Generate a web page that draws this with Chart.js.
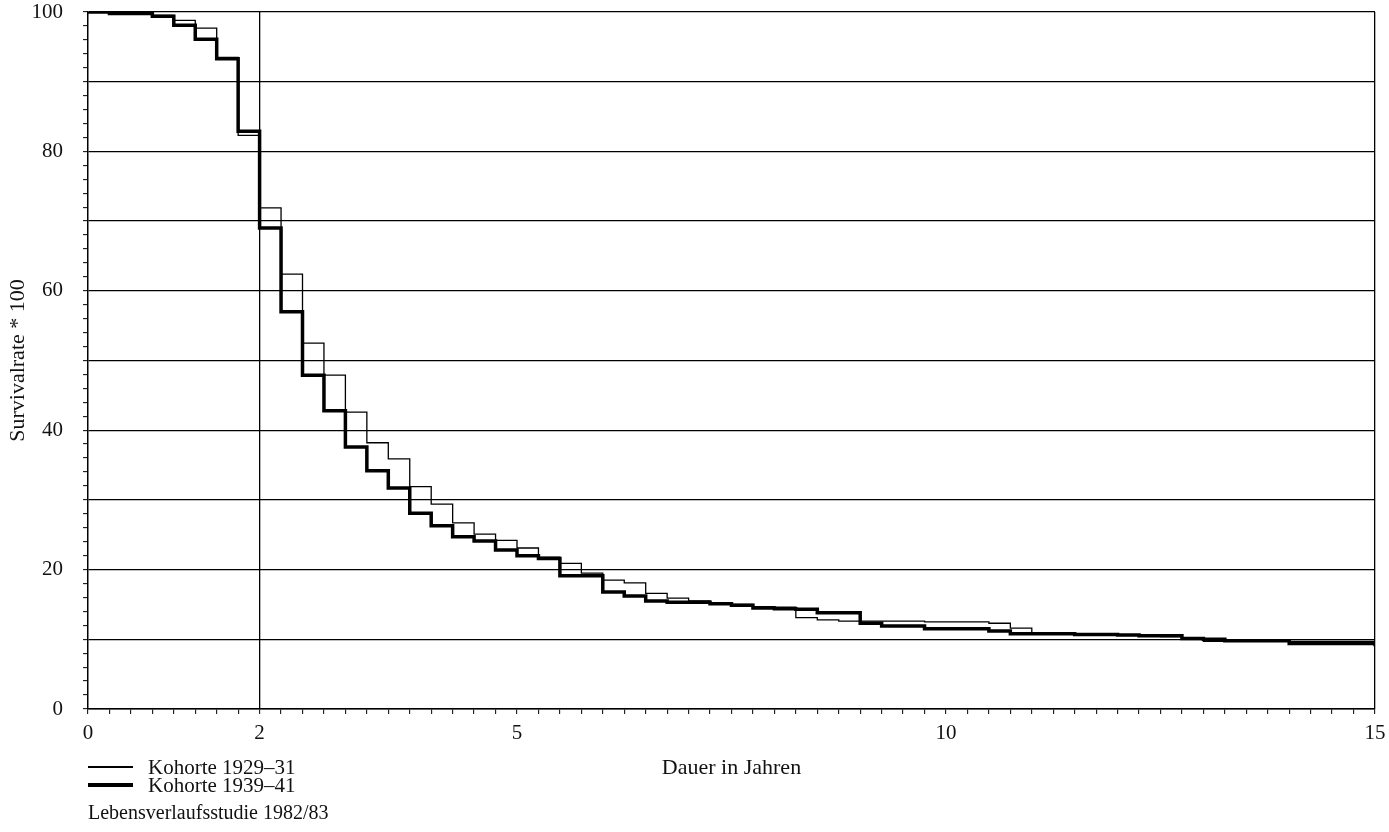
<!DOCTYPE html>
<html>
<head>
<meta charset="utf-8">
<style>
  body { margin: 0; background: #fff; }
  #wrap { position: relative; width: 1389px; height: 832px; }
  #legend, #source { position: absolute; left: 88px; font-family: 'Liberation Serif', serif; font-size: 21px; color: #111; }
  #legend { top: 758px; }
  .row { display: flex; align-items: center; height: 18px; }
  .swatch { width: 45px; background: #000; margin-right: 15px; }
  #source { top: 801px; font-size: 20px; }
</style>
</head>
<body>
<div id="wrap">
  <canvas id="myChart" width="1389" height="832"></canvas>
  <div id="legend"></div>
  <div id="source">Lebensverlaufsstudie 1982/83</div>
</div>

<script src="https://cdn.jsdelivr.net/npm/chart.js"></script>
<script>
// Dauer in Jahren (quarterly steps)
const durationYears = [0, 0.25, 0.5, 0.75, 1, 1.25, 1.5, 1.75, 2, 2.25, 2.5, 2.75, 3, 3.25, 3.5, 3.75,
  4, 4.25, 4.5, 4.75, 5, 5.25, 5.5, 5.75, 6, 6.25, 6.5, 6.75, 7, 7.25, 7.5, 7.75,
  8, 8.25, 8.5, 8.75, 9, 9.25, 9.5, 9.75, 10, 10.25, 10.5, 10.75, 11, 11.25, 11.5, 11.75,
  12, 12.25, 12.5, 12.75, 13, 13.25, 13.5, 13.75, 14, 14.25, 14.5, 14.75, 15]

// Survivalrate * 100
const kohorte1929 = [100, 100, 99.7, 99.5, 98.8, 97.7, 93.5, 82.3, 71.9, 62.4, 52.5, 47.9, 42.6, 38.2, 35.9, 31.9,
  29.4, 26.7, 25.1, 24.2, 23.1, 21.8, 20.9, 19.5, 18.5, 18.1, 16.6, 15.9, 15.5, 15.2, 15.0, 14.7,
  14.6, 13.1, 12.8, 12.6, 12.6, 12.6, 12.6, 12.5, 12.5, 12.5, 12.3, 11.6, 10.9, 10.9, 10.8, 10.7,
  10.6, 10.5, 10.4, 10.1, 9.7, 9.7, 9.7, 9.7, 9.7, 9.7, 9.7, 9.7, 9.6]
const kohorte1939 = [100, 99.8, 99.8, 99.4, 98.1, 96.1, 93.3, 82.9, 69.0, 57.0, 47.9, 42.8, 37.6, 34.2, 31.7, 28.1,
  26.3, 24.7, 24.1, 22.8, 22.0, 21.6, 19.1, 19.1, 16.8, 16.2, 15.5, 15.3, 15.3, 15.1, 14.9, 14.5,
  14.4, 14.3, 13.8, 13.8, 12.3, 11.9, 11.9, 11.5, 11.5, 11.5, 11.2, 10.8, 10.8, 10.8, 10.7, 10.7,
  10.6, 10.5, 10.5, 10.1, 10.0, 9.8, 9.8, 9.8, 9.4, 9.4, 9.4, 9.4, 9.0]

const xTickLabels = [0, 2, 5, 10, 15]
const yTickLabels = [0, 20, 40, 60, 80, 100]
const seriesNames = ['Kohorte 1929–31', 'Kohorte 1939–41']

const serif = "'Liberation Serif', 'Times New Roman', serif"
const toPoints = (vals) => vals.map((v, i) => ({x: durationYears[i], y: v}))

var ctx = document.getElementById('myChart')
var myChart = new Chart(ctx, {
  type: 'line',
  data: {
    datasets: [{
      label: seriesNames[1],
      data: toPoints(kohorte1939),
      borderColor: '#000',
      borderWidth: 3.5,
      stepped: true,
      pointRadius: 0,
      fill: false
    }, {
      label: seriesNames[0],
      data: toPoints(kohorte1929),
      borderColor: '#000',
      borderWidth: 1.3,
      stepped: true,
      pointRadius: 0,
      fill: false
    }]
  },
  options: {
    responsive: false,
    animation: false,
    layout: { padding: { top: 12, right: 14, left: 0, bottom: 0 } },
    plugins: { legend: { display: false }, tooltip: { enabled: false } },
    scales: {
      x: {
        type: 'linear',
        min: 0, max: 15,
        afterFit: (scale) => {
          scale.height = 123
          scale.paddingLeft = 0
          scale.paddingRight = 0
        },
        border: { color: '#000', width: 1.5 },
        grid: {
          color: (c) => (c.tick && (c.tick.value === 2 || c.tick.value === 15)) ? '#000' : 'rgba(0,0,0,0)',
          lineWidth: 1.3,
          tickColor: '#000',
          tickWidth: 1,
          tickLength: 5
        },
        ticks: {
          stepSize: 0.25,
          autoSkip: false,
          maxRotation: 0,
          padding: 7,
          color: '#111',
          font: { family: serif, size: 21 },
          callback: (v) => xTickLabels.includes(v) ? String(v) : ''
        },
        title: {
          display: true,
          text: 'Dauer in Jahren',
          color: '#111',
          font: { family: serif, size: 22 },
          padding: { top: 0, bottom: 51 }
        }
      },
      y: {
        min: 0, max: 100,
        afterFit: (scale) => {
          scale.width = 88
          scale.paddingTop = 0
          scale.paddingBottom = 0
        },
        border: { color: '#000', width: 1.5 },
        grid: {
          color: (c) => (c.tick && c.tick.value % 10 === 0) ? '#000' : 'rgba(0,0,0,0)',
          lineWidth: 1.3,
          tickColor: '#000',
          tickWidth: 1,
          tickLength: 5
        },
        ticks: {
          stepSize: 2,
          autoSkip: false,
          padding: 20,
          color: '#111',
          font: { family: serif, size: 21 },
          callback: (v) => yTickLabels.includes(v) ? String(v) : ''
        },
        title: {
          display: true,
          text: 'Survivalrate * 100',
          color: '#111',
          font: { family: serif, size: 22 },
          padding: { top: 5, bottom: 0 }
        }
      }
    }
  }
})

// legend below the axis, thin series first
const legendBox = document.getElementById('legend')
myChart.data.datasets.slice().reverse().forEach(ds => {
  const row = document.createElement('div')
  row.className = 'row'
  const sw = document.createElement('span')
  sw.className = 'swatch'
  sw.style.height = ds.borderWidth + 'px'
  const txt = document.createElement('span')
  txt.textContent = ds.label
  row.appendChild(sw)
  row.appendChild(txt)
  legendBox.appendChild(row)
})
</script>
</body>
</html>
